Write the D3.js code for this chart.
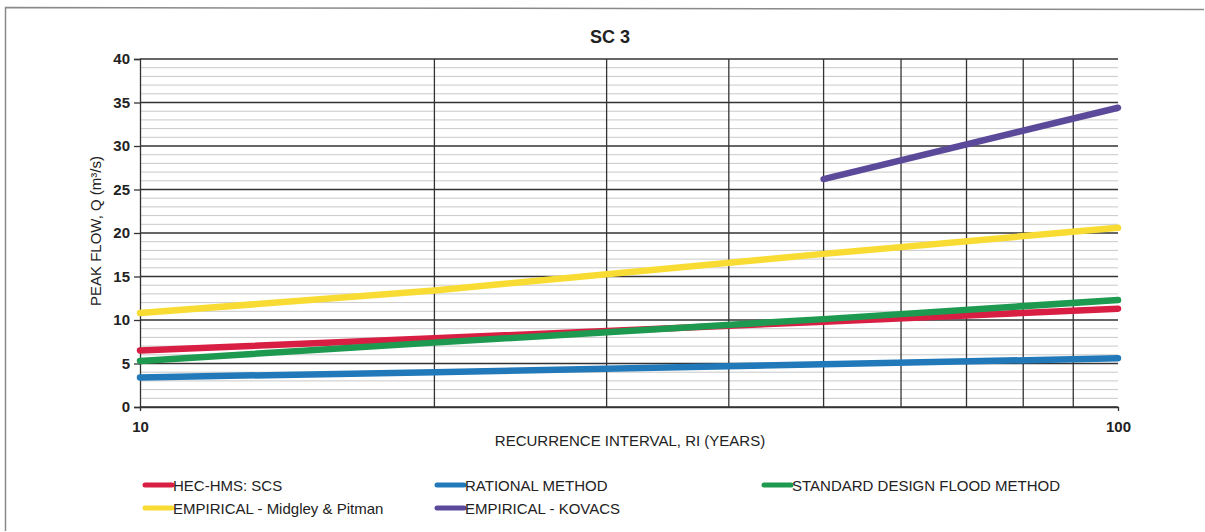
<!DOCTYPE html>
<html>
<head>
<meta charset="utf-8">
<script src="https://cdn.jsdelivr.net/npm/d3@7"></script>
<style>
  body { margin: 0; background: #fff; }
  svg { font-family: Arial, "Liberation Sans", sans-serif; }
</style>
</head>
<body>
<svg id="chart"></svg>
<script>
// recurrence intervals (years)
const years = [10, 20, 50, 100];
const hecHms = [6.5, 7.9, 9.8, 11.3];
const rational = [3.4, 4.0, 4.9, 5.6];
const sdf = [5.3, 7.4, 10.1, 12.3];
const midgley = [10.8, 13.4, 17.6, 20.6];
const kovacsYears = [50, 100];
const kovacs = [26.2, 34.4];

const seriesNames = ["HEC-HMS: SCS", "RATIONAL METHOD", "STANDARD DESIGN FLOOD METHOD",
  "EMPIRICAL - Midgley & Pitman", "EMPIRICAL - KOVACS"];
const seriesColors = ["#d81e43", "#2179b9", "#1e9a50", "#f9dc33", "#5b4a9a"];
const xTicks = [10, 100];
const yTicks = [0, 5, 10, 15, 20, 25, 30, 35, 40];

const W = 1205, H = 532;
const margin = { top: 59, right: 87, bottom: 125, left: 140 },
  width = W - margin.left - margin.right,
  height = H - margin.top - margin.bottom;

const root = d3.select("#chart").attr("width", W).attr("height", H);

// scanned frame
root.append("path")
  .attr("d", "M5.5,531 L5.5,7.5 L1204,9.5")
  .attr("fill", "none")
  .attr("stroke", "#8a8a8a")
  .attr("stroke-width", 1.5);

const svg = root.append("g").attr("transform", `translate(${margin.left},${margin.top})`);

const x = d3.scaleLog().domain([10, 100]).range([0, width]);
const y = d3.scaleLinear().domain([0, 40]).range([height, 0]);

// minor horizontal grid
svg.append("g")
  .selectAll("line")
  .data(d3.range(1, 40).filter((v) => v % 5 !== 0))
  .join("line")
  .attr("x1", 0).attr("x2", width)
  .attr("y1", (d) => y(d)).attr("y2", (d) => y(d))
  .attr("stroke", "#c9c9c9")
  .attr("stroke-width", 1);

// major horizontal grid
svg.append("g")
  .selectAll("line")
  .data(yTicks)
  .join("line")
  .attr("x1", 0).attr("x2", width)
  .attr("y1", (d) => y(d)).attr("y2", (d) => y(d))
  .attr("stroke", "#333")
  .attr("stroke-width", 1.3);

// vertical log grid
svg.append("g")
  .selectAll("line")
  .data(d3.range(20, 100, 10))
  .join("line")
  .attr("x1", (d) => x(d)).attr("x2", (d) => x(d))
  .attr("y1", 0).attr("y2", height)
  .attr("stroke", "#333")
  .attr("stroke-width", 1.3);

// Eje Y
const yAxis = svg.append("g")
  .call(d3.axisLeft(y).tickValues(yTicks).tickSize(6).tickPadding(4));
yAxis.select(".domain").attr("stroke", "#333").attr("stroke-width", 1.3);
yAxis.selectAll(".tick line").attr("stroke", "#333").attr("stroke-width", 1.3);
yAxis.selectAll("text").attr("font-size", "15px").attr("font-weight", "bold").attr("fill", "#222");

// Eje X
const xAxis = svg.append("g")
  .attr("transform", `translate(0,${height})`)
  .call(d3.axisBottom(x).tickValues(xTicks).tickFormat(d3.format("d")).tickSize(4).tickPadding(10));
xAxis.select(".domain").attr("stroke", "#333").attr("stroke-width", 1.3);
xAxis.selectAll(".tick line").attr("stroke", "#333");
xAxis.selectAll("text").attr("font-size", "15px").attr("font-weight", "bold").attr("fill", "#222");

// lines
const line = d3.line().x((d) => x(d[0])).y((d) => y(d[1]));
const allSeries = [
  d3.zip(years, hecHms),
  d3.zip(years, rational),
  d3.zip(years, sdf),
  d3.zip(years, midgley),
  d3.zip(kovacsYears, kovacs),
];
const drawOrder = [3, 1, 0, 2, 4];
drawOrder.forEach((i) => {
  svg.append("path")
    .datum(allSeries[i])
    .attr("fill", "none")
    .attr("stroke", seriesColors[i])
    .attr("stroke-width", 6.5)
    .attr("stroke-linecap", "round")
    .attr("stroke-linejoin", "round")
    .attr("d", line);
});

// Título y etiquetas
root.append("text")
  .attr("x", 610).attr("y", 43)
  .attr("text-anchor", "middle")
  .attr("font-size", "18px")
  .attr("font-weight", "bold")
  .attr("fill", "#222")
  .text("SC 3");

root.append("text")
  .attr("transform", `translate(101,${margin.top + height / 2 - 2}) rotate(-90)`)
  .attr("text-anchor", "middle")
  .attr("font-size", "15px")
  .attr("fill", "#222")
  .text("PEAK FLOW, Q (m³/s)");

root.append("text")
  .attr("x", 630).attr("y", 446)
  .attr("text-anchor", "middle")
  .attr("font-size", "15px")
  .attr("fill", "#222")
  .text("RECURRENCE INTERVAL, RI (YEARS)");

// legend
const legendPos = [[145, 485], [437, 485], [764, 485], [145, 508], [437, 508]];
seriesNames.forEach((name, i) => {
  const [lx, ly] = legendPos[i];
  root.append("line")
    .attr("x1", lx).attr("x2", lx + 27)
    .attr("y1", ly).attr("y2", ly)
    .attr("stroke", seriesColors[i])
    .attr("stroke-width", 5)
    .attr("stroke-linecap", "round");
  root.append("text")
    .attr("x", lx + 28).attr("y", ly + 5.5)
    .attr("font-size", "15px")
    .attr("fill", "#222")
    .text(name);
});
</script>
</body>
</html>
